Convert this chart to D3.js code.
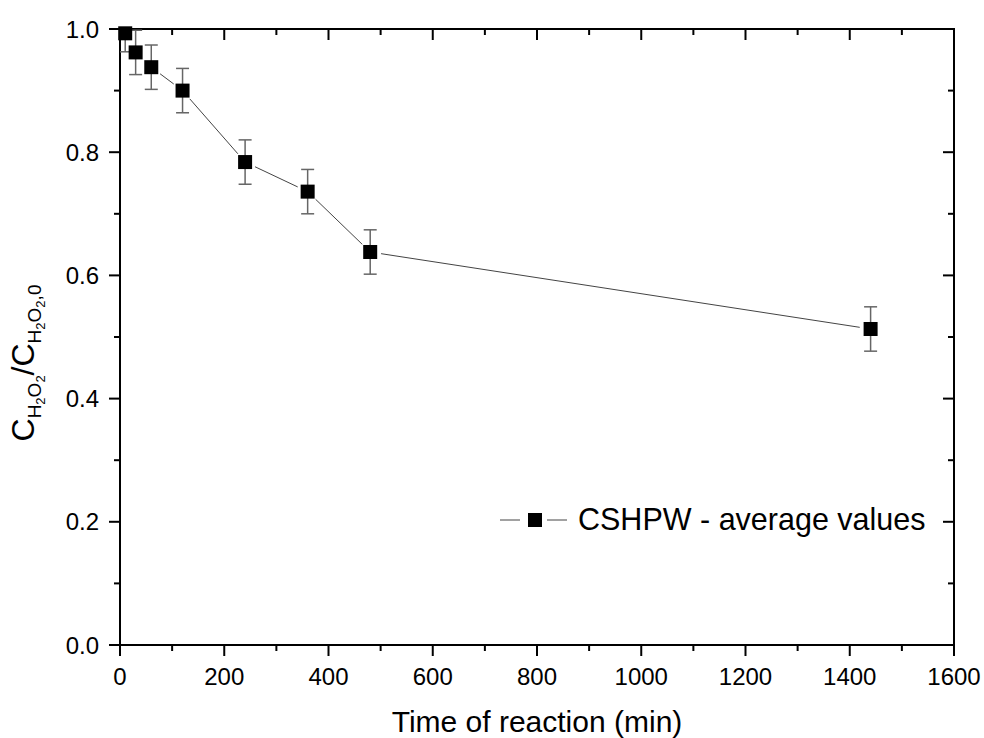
<!doctype html>
<html lang="en">

<head>
    <meta charset="utf-8">
    <title>H2O2 decomposition - CSHPW</title>
    <script src="https://cdn.jsdelivr.net/npm/d3@7"></script>
    <style>
        body { margin: 0; background: #fff; }
        svg text { font-family: "Liberation Sans", Arial, sans-serif; fill: #000; }
    </style>
</head>

<body>
    <svg id="chart" width="984" height="738"></svg>
</body>

<script>
    // data
    var times = [10, 30, 60, 120, 240, 360, 480, 1440];
    var ratio = [0.993, 0.962, 0.938, 0.900, 0.784, 0.736, 0.638, 0.513];
    var errors = [0.030, 0.036, 0.036, 0.036, 0.036, 0.036, 0.036, 0.036];
    var xTicks = [0, 200, 400, 600, 800, 1000, 1200, 1400, 1600];
    var yTicks = [0.0, 0.2, 0.4, 0.6, 0.8, 1.0];
    var legendLabel = "CSHPW - average values";

    var margin = { top: 29, right: 30, bottom: 93, left: 120 };
    var W = 984, H = 738;
    var svg = d3.select("#chart");

    var x = d3.scaleLinear().domain([0, 1600]).range([margin.left, W - margin.right]);
    var y = d3.scaleLinear().domain([0, 1]).range([H - margin.bottom, margin.top]);

    var points = times.map((t, i) => ({ t: t, v: ratio[i], e: errors[i] }));

    svg.append("clipPath").attr("id", "plotclip").append("rect")
        .attr("x", x(0)).attr("y", y(1)).attr("width", x(1600) - x(0)).attr("height", y(0) - y(1));

    // axes: bottom/left with outward ticks, top/right with inward ticks
    var xMinor = d3.range(100, 1600, 200);
    var yMinor = d3.range(0.1, 1.0, 0.2);

    function ticks(axis, major, minor, tickLen, minorLen) {
        var g = svg.append("g").attr("class", "axis");
        major.forEach(v => {
            if (axis === "bottom") g.append("line").attr("x1", x(v)).attr("x2", x(v)).attr("y1", y(0)).attr("y2", y(0) + tickLen);
            if (axis === "top") g.append("line").attr("x1", x(v)).attr("x2", x(v)).attr("y1", y(1)).attr("y2", y(1) + tickLen);
            if (axis === "left") g.append("line").attr("x1", x(0)).attr("x2", x(0) - tickLen).attr("y1", y(v)).attr("y2", y(v));
            if (axis === "right") g.append("line").attr("x1", x(1600)).attr("x2", x(1600) - tickLen).attr("y1", y(v)).attr("y2", y(v));
        });
        minor.forEach(v => {
            if (axis === "bottom") g.append("line").attr("x1", x(v)).attr("x2", x(v)).attr("y1", y(0)).attr("y2", y(0) + minorLen);
            if (axis === "top") g.append("line").attr("x1", x(v)).attr("x2", x(v)).attr("y1", y(1)).attr("y2", y(1) + minorLen);
            if (axis === "left") g.append("line").attr("x1", x(0)).attr("x2", x(0) - minorLen).attr("y1", y(v)).attr("y2", y(v));
            if (axis === "right") g.append("line").attr("x1", x(1600)).attr("x2", x(1600) - minorLen).attr("y1", y(v)).attr("y2", y(v));
        });
        g.selectAll("line").attr("stroke", "#000").attr("stroke-width", 2);
    }
    ticks("bottom", xTicks, xMinor, 11, 6);
    ticks("top", xTicks, xMinor, 11, 6);
    ticks("left", yTicks, yMinor, 11, 6);
    ticks("right", yTicks, yMinor, 11, 6);

    svg.append("rect")
        .attr("x", x(0)).attr("y", y(1)).attr("width", x(1600) - x(0)).attr("height", y(0) - y(1))
        .attr("fill", "none").attr("stroke", "#000").attr("stroke-width", 2);

    svg.append("g").selectAll("text").data(xTicks).join("text")
        .attr("x", d => x(d)).attr("y", y(0) + 40)
        .attr("text-anchor", "middle").attr("font-size", 24)
        .text(d => d);

    svg.append("g").selectAll("text").data(yTicks).join("text")
        .attr("x", x(0) - 21).attr("y", d => y(d) + 8.5)
        .attr("text-anchor", "end").attr("font-size", 24)
        .text(d => d3.format(".1f")(d));

    // axis titles
    svg.append("text")
        .attr("x", (x(0) + x(1600)) / 2).attr("y", 732)
        .attr("text-anchor", "middle").attr("font-size", 30)
        .text("Time of reaction (min)");

    var yTitle = svg.append("text")
        .attr("transform", "translate(34,363) rotate(-90)")
        .attr("text-anchor", "middle").attr("font-size", 32);
    yTitle.append("tspan").text("C");
    yTitle.append("tspan").attr("font-size", 19).attr("dy", 7).text("H");
    yTitle.append("tspan").attr("font-size", 13).attr("dy", 4).text("2");
    yTitle.append("tspan").attr("font-size", 19).attr("dy", -4).text("O");
    yTitle.append("tspan").attr("font-size", 13).attr("dy", 4).text("2");
    yTitle.append("tspan").attr("dy", -11).text("/C");
    yTitle.append("tspan").attr("font-size", 19).attr("dy", 7).text("H");
    yTitle.append("tspan").attr("font-size", 13).attr("dy", 4).text("2");
    yTitle.append("tspan").attr("font-size", 19).attr("dy", -4).text("O");
    yTitle.append("tspan").attr("font-size", 13).attr("dy", 4).text("2");
    yTitle.append("tspan").attr("font-size", 19).attr("dy", -4).text(",0");

    // connecting line, broken around each marker
    var gap = 11;
    var lineG = svg.append("g");
    d3.pairs(points).forEach(([a, b]) => {
        var x1 = x(a.t), y1 = y(a.v), x2 = x(b.t), y2 = y(b.v);
        var len = Math.hypot(x2 - x1, y2 - y1);
        if (len <= 2 * gap) return;
        var ux = (x2 - x1) / len, uy = (y2 - y1) / len;
        lineG.append("line")
            .attr("x1", x1 + ux * gap).attr("y1", y1 + uy * gap)
            .attr("x2", x2 - ux * gap).attr("y2", y2 - uy * gap)
            .attr("stroke", "#444").attr("stroke-width", 1);
    });

    // error bars
    var capW = 13;
    var errG = svg.append("g").attr("clip-path", "url(#plotclip)")
        .attr("stroke", "#666").attr("stroke-width", 1.5);
    points.forEach(p => {
        errG.append("line").attr("x1", x(p.t)).attr("x2", x(p.t)).attr("y1", y(p.v + p.e)).attr("y2", y(p.v - p.e));
        errG.append("line").attr("x1", x(p.t) - capW / 2).attr("x2", x(p.t) + capW / 2).attr("y1", y(p.v + p.e)).attr("y2", y(p.v + p.e));
        errG.append("line").attr("x1", x(p.t) - capW / 2).attr("x2", x(p.t) + capW / 2).attr("y1", y(p.v - p.e)).attr("y2", y(p.v - p.e));
    });

    // markers
    var sq = 14;
    svg.append("g").selectAll("rect").data(points).join("rect")
        .attr("x", d => x(d.t) - sq / 2).attr("y", d => y(d.v) - sq / 2)
        .attr("width", sq).attr("height", sq).attr("fill", "#000");

    // legend
    var lg = svg.append("g").attr("transform", "translate(500,520)");
    lg.append("line").attr("x1", 0).attr("x2", 20).attr("stroke", "#444").attr("stroke-width", 1);
    lg.append("line").attr("x1", 47).attr("x2", 67).attr("stroke", "#444").attr("stroke-width", 1);
    lg.append("rect").attr("x", 35 - sq / 2).attr("y", -sq / 2).attr("width", sq).attr("height", sq).attr("fill", "#000");
    lg.append("text").attr("x", 78).attr("y", 10).attr("font-size", 30.5).text(legendLabel);
</script>

</html>
